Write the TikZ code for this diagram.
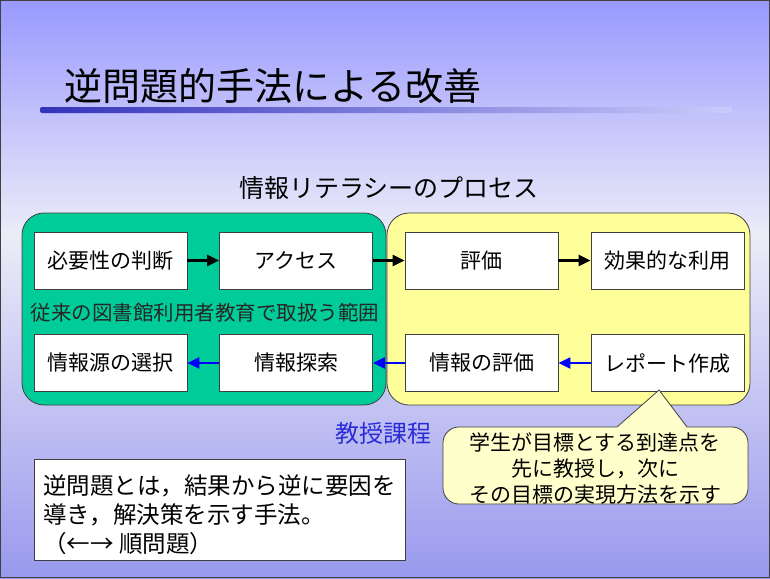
\documentclass[tikz,border=0pt]{standalone}
\usepackage{fontspec}
\setmainfont{Noto Sans CJK JP}
\usetikzlibrary{arrows.meta}
\definecolor{bgtop}{HTML}{9999FF}
\definecolor{bgmid}{HTML}{ECECF8}
\definecolor{bgbot}{HTML}{9999EE}
\definecolor{grn}{HTML}{00CC99}
\definecolor{ylw}{HTML}{FFFF99}
\definecolor{callfill}{HTML}{FFFFCC}
\definecolor{bluearr}{HTML}{0000FF}
\definecolor{bluetxt}{HTML}{2B2BD9}
\definecolor{edge}{HTML}{404040}
\definecolor{bardark}{HTML}{3333BB}
\begin{document}
\begin{tikzpicture}[x=1pt,y=-1pt,
  stepbox/.style={draw=edge, line width=0.8pt, fill=white, minimum width=153pt, minimum height=57pt, inner sep=0pt, font=\fontsize{21}{25}\selectfont},
  region/.style={draw=edge, line width=0.8pt, rounded corners=22pt},
  blk/.style={line width=2.2pt, -{Triangle[length=12pt,width=11pt]}},
  blu/.style={blk, draw=bluearr, color=bluearr}]
\useasboundingbox (0,0) rectangle (770,578);
% background
\fill[top color=bgtop, bottom color=bgmid] (0,0) rectangle (770,235);
\fill[top color=bgmid, bottom color=bgbot] (0,235) rectangle (770,578);
\draw[edge, line width=1pt] (0.5,0.5) rectangle (769.5,577.5);
% title
\node[anchor=west, inner sep=0pt, font=\fontsize{38}{42}\selectfont] (title) at (64,86) {逆問題的手法による改善};
\shade[left color=bardark, right color=bgtop!40!bgmid, rounded corners=2pt] (40,107) rectangle (732,113);
% subtitle
\node[font=\fontsize{25}{30}\selectfont] (sub) at (389,188) {情報リテラシーのプロセス};
% regions
\draw[region, fill=grn] (22,213) rectangle (386,405);
\draw[region, fill=ylw] (387,213) rectangle (750,405);
% boxes
\node[stepbox] (b1) at (110.5,260.5) {必要性の判断};
\node[stepbox] (b2) at (296,260.5) {アクセス};
\node[stepbox] (b3) at (481.5,260.5) {評価};
\node[stepbox] (b4) at (667.5,260.5) {効果的な利用};
\node[stepbox] (c1) at (110.5,363) {情報源の選択};
\node[stepbox] (c2) at (296,363) {情報探索};
\node[stepbox] (c3) at (481.5,363) {情報の評価};
\node[stepbox] (c4) at (667.5,363) {レポート作成};
\draw[blk] (b1) -- (b2);
\draw[blk] (b2) -- (b3);
\draw[blk] (b3) -- (b4);
\draw[blu] (c4) -- (c3);
\draw[blu] (c3) -- (c2);
\draw[blu] (c2) -- (c1);
\node[font=\fontsize{20.5}{24}\selectfont, text=black!85] (scope) at (205,313) {従来の図書館利用者教育で取扱う範囲};
\node[font=\fontsize{24}{28}\selectfont, text=bluetxt] (kyoju) at (383,433) {教授課程};
% callout
\draw[edge, line width=0.8pt, fill=callfill] (659,390) -- (687,427) [rounded corners=16pt] -- (748,427) -- (748,504) -- (443,504) -- (443,427) [sharp corners] -- (617,427) -- cycle;
\node[align=center, font=\fontsize{21}{26}\selectfont] (call) at (595,469) {学生が目標とする到達点を\\先に教授し，次に\\その目標の実現方法を示す};
% note
\node[draw=edge, line width=0.8pt, fill=white, minimum width=371pt, minimum height=96pt, align=left, inner sep=5pt, font=\fontsize{23.5}{29}\selectfont] (note) at (219.5,510) {\rule{0pt}{30pt}逆問題とは，結果から逆に要因を\\導き，解決策を示す手法。\\（←→ 順問題）};
\end{tikzpicture}
\end{document}
